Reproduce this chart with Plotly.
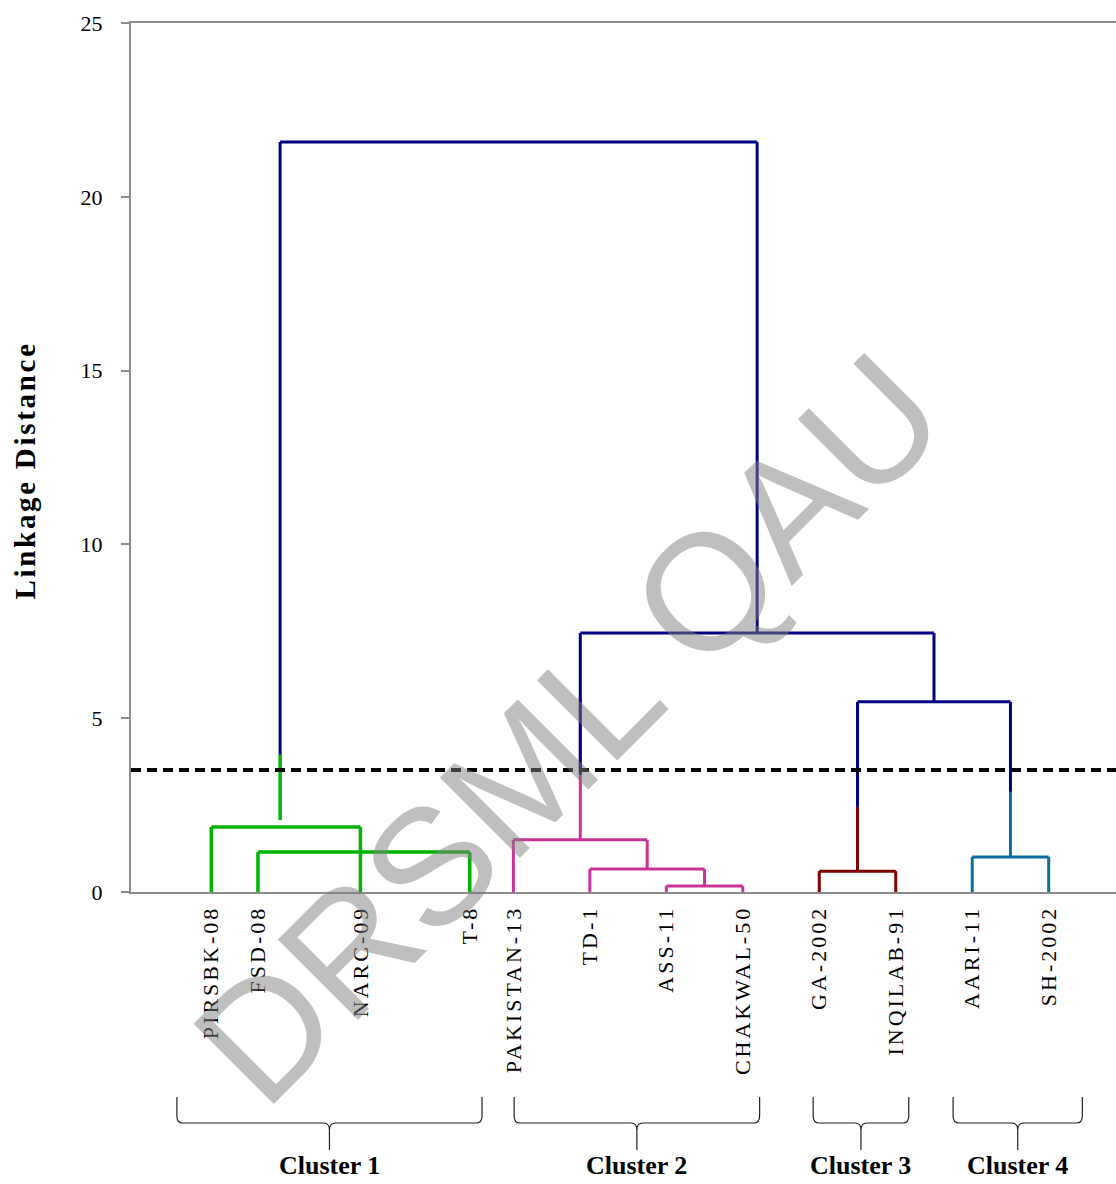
import plotly.graph_objects as go

# Genotypes along the x axis and their positions
leaves = ["PIRSBK-08", "FSD-08", "NARC-09", "T-8", "PAKISTAN-13", "TD-1",
          "ASS-11", "CHAKWAL-50", "GA-2002", "INQILAB-91", "AARI-11", "SH-2002"]
leaf_pos = [1.05, 1.66, 3.0, 4.43, 5, 6, 7, 8, 9, 10, 11, 12]

# Agglomeration steps: (node, left child, right child, linkage distance, group)
merges = [
    ("c1a", "PIRSBK-08", "NARC-09", 1.87, "c1"),
    ("c1b", "FSD-08", "T-8", 1.15, "c1"),
    ("c2a", "ASS-11", "CHAKWAL-50", 0.17, "c2"),
    ("c2b", "TD-1", "c2a", 0.66, "c2"),
    ("c2c", "PAKISTAN-13", "c2b", 1.50, "c2"),
    ("c3a", "GA-2002", "INQILAB-91", 0.60, "c3"),
    ("c4a", "AARI-11", "SH-2002", 1.01, "c4"),
    ("m1", "c3a", "c4a", 5.47, "top"),
    ("m2", "c2c", "m1", 7.45, "top"),
    ("m3", "c1", "m2", 21.58, "top"),
]

# Cluster 1 root stem: position and base height
c1_root_x = 1.95
c1_root_base = 2.07

# Where each cluster stem changes from cluster colour to the top-level colour:
# (end of coloured part, start of top-level part)
stem_split = {"c1": (3.95, 3.95), "c2c": (5.6, 3.37),
              "c3a": (2.45, 2.45), "c4a": (2.88, 2.88)}

group_colors = {"c1": "#00B400", "c2": "#CC3399", "c3": "#800000",
                "c4": "#0A6EA0", "top": "#000080"}

cut_height = 3.51

cluster_names = ["Cluster 1", "Cluster 2", "Cluster 3", "Cluster 4"]
cluster_span = [(0.60, 4.59), (5.01, 8.22), (8.92, 10.17), (10.75, 12.44)]

y_ticks = [0, 5, 10, 15, 20, 25]
X_MAX = 12.88

SERIF = "Liberation Serif, Times New Roman, serif"

# ---- node positions and heights ----
pos = dict(zip(leaves, leaf_pos))
hgt = {name: 0.0 for name in leaves}
grp = {}
pos["c1"] = c1_root_x
hgt["c1"] = c1_root_base
grp["c1"] = "c1"
for name, left, right, h, g in merges:
    pos[name] = (pos[left] + pos[right]) / 2
    hgt[name] = h
    grp[name] = g
    for child in (left, right):
        grp.setdefault(child, g)

# ---- collect line segments by colour ----
segs = {g: ([], []) for g in group_colors}


def add(g, xs, ys):
    segs[g][0].extend(list(xs) + [None])
    segs[g][1].extend(list(ys) + [None])


for name, left, right, h, g in merges:
    add(g, [pos[left], pos[right]], [h, h])
    for child in (left, right):
        if g == "top" and child in stem_split:
            top_col, bot_top = stem_split[child]
            add(grp[child], [pos[child]] * 2, [hgt[child], top_col])
            add(g, [pos[child]] * 2, [bot_top, h])
        else:
            add(g, [pos[child]] * 2, [hgt[child], h])

fig = go.Figure()
for g in ["c1", "c2", "c3", "c4", "top"]:
    xs, ys = segs[g]
    fig.add_trace(go.Scatter(
        x=xs, y=ys, mode="lines",
        line=dict(color=group_colors[g], width=3.5 if g == "c1" else 3),
        hoverinfo="skip", showlegend=False))

# cut-off line
fig.add_trace(go.Scatter(
    x=[0, X_MAX], y=[cut_height, cut_height], mode="lines",
    line=dict(color="black", width=4, dash="10px,6px"),
    hoverinfo="skip", showlegend=False))

# ---- braces and cluster labels under the leaf labels ----
W_PLOT = 985.0
H_PLOT = 869.0
y_top, y_mid, y_tip = -0.2359, -0.2658, -0.2969
dx, dy = 6 / W_PLOT, 7 / H_PLOT
shapes = []
annotations = []
for name, (a, b) in zip(cluster_names, cluster_span):
    xl, xr = a / X_MAX, b / X_MAX
    xm = (xl + xr) / 2
    path = (f"M{xl},{y_top} L{xl},{y_mid + dy} Q{xl},{y_mid} {xl + dx},{y_mid} "
            f"L{xm - dx},{y_mid} Q{xm},{y_mid} {xm},{y_mid - dy} L{xm},{y_tip} "
            f"M{xm},{y_mid - dy} Q{xm},{y_mid} {xm + dx},{y_mid} "
            f"L{xr - dx},{y_mid} Q{xr},{y_mid} {xr},{y_mid + dy} L{xr},{y_top}")
    shapes.append(dict(type="path", xref="paper", yref="paper", path=path,
                       line=dict(color="#222222", width=1.2)))
    annotations.append(dict(
        text=f"<b>{name}</b>", xref="paper", yref="paper", x=xm, y=-0.334,
        showarrow=False, xanchor="center", yanchor="bottom",
        font=dict(family=SERIF, size=26, color="black")))

# axis title
annotations.append(dict(
    text="<b>Linkage Distance</b>", xref="paper", yref="paper",
    x=-0.1076, y=0.4845, textangle=-90, showarrow=False,
    xanchor="center", yanchor="middle",
    font=dict(family=SERIF, size=29, color="black")))

# watermark
annotations.append(dict(
    text="DRSML QAU", xref="paper", yref="paper", x=0.4437, y=0.188,
    textangle=-45, showarrow=False, xanchor="center", yanchor="middle",
    font=dict(family="Liberation Sans, Arial, sans-serif", size=165,
              color="rgba(128,128,128,0.5)")))

fig.update_layout(
    width=1116, height=1184,
    margin=dict(l=131, r=0, t=23, b=292),
    paper_bgcolor="white", plot_bgcolor="white",
    shapes=shapes, annotations=annotations,
    xaxis=dict(
        range=[0, X_MAX], tickmode="array", tickvals=leaf_pos, ticktext=leaves,
        tickangle=-90, ticks="", showgrid=False, zeroline=False,
        showline=True, linecolor="#8c8c8c", linewidth=2, mirror=True,
        tickfont=dict(family=SERIF, size=22, color="black"),
        ticklabelstandoff=3),
    yaxis=dict(
        range=[0, 25], tickmode="array", tickvals=y_ticks,
        ticks="outside", ticklen=8, tickwidth=2, tickcolor="#8c8c8c",
        showgrid=False, zeroline=False,
        showline=True, linecolor="#8c8c8c", linewidth=2,
        tickfont=dict(family=SERIF, size=22, color="black"),
        ticklabelstandoff=14),
    yaxis2=dict(
        range=[0, 25], overlaying="y", side="left", tickmode="array",
        tickvals=y_ticks, ticks="inside", ticklen=9, tickwidth=2,
        tickcolor="#8c8c8c", showticklabels=False, showgrid=False,
        zeroline=False, showline=False),
)

# wider tracking for the genotype labels and the axis title
spacing_js = """
var gd = document.getElementById('{plot_id}');
gd.querySelectorAll('.xtick text').forEach(function (t) {
    t.style.letterSpacing = '3px';
});
gd.querySelectorAll('text.annotation-text').forEach(function (t) {
    if (t.textContent === 'Linkage Distance') { t.style.letterSpacing = '2.7px'; }
});
"""

fig.write_html("out.html", post_script=spacing_js)
